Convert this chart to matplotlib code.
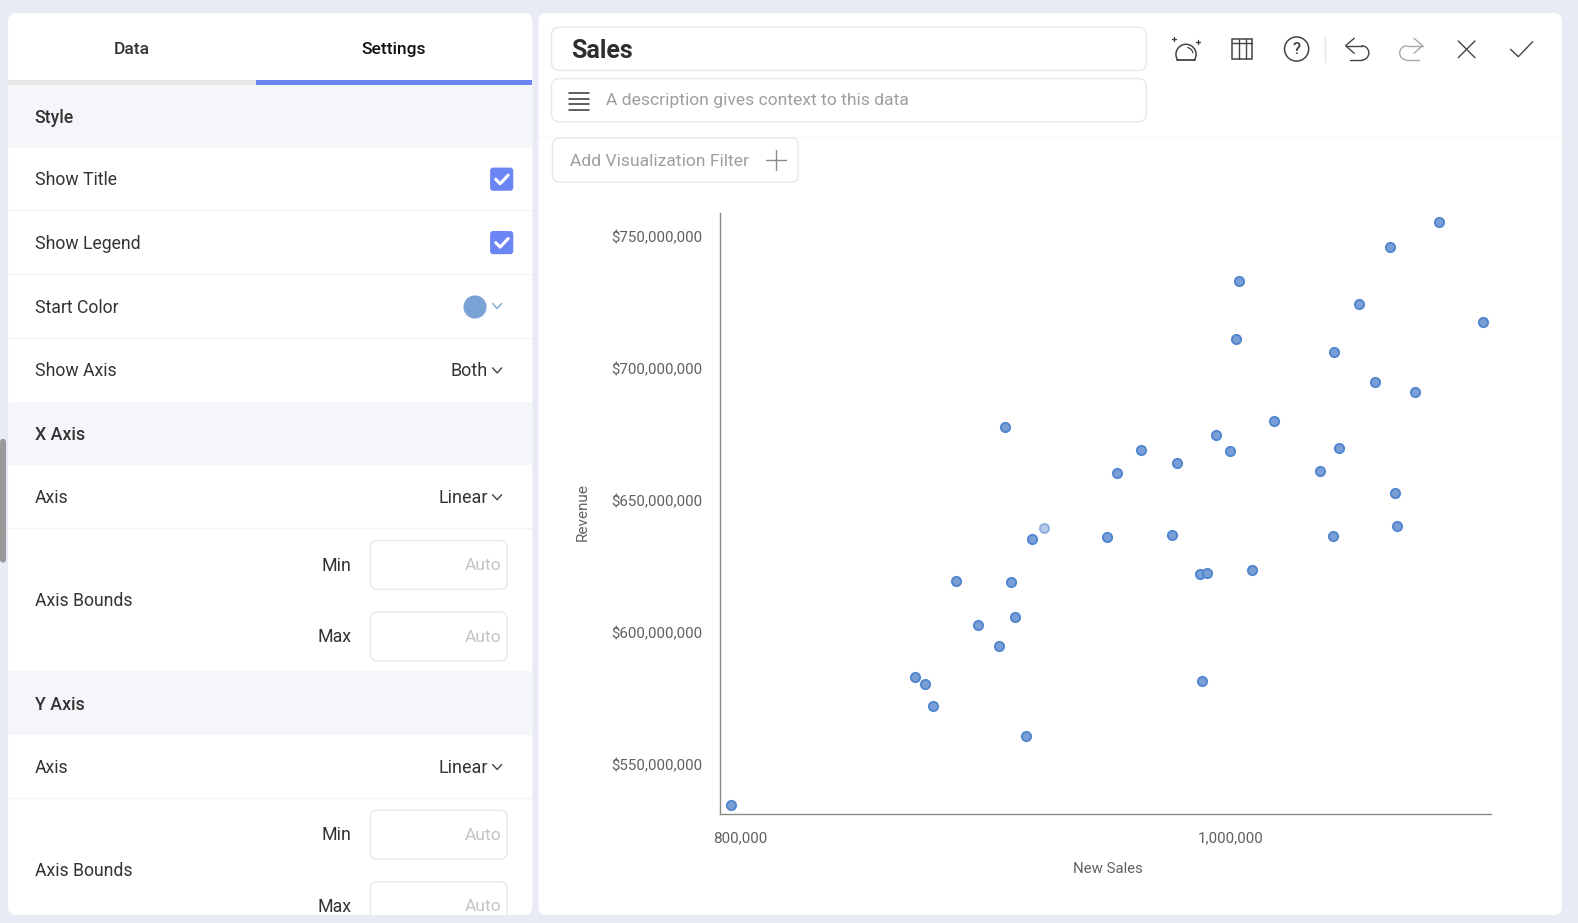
import numpy as np
import matplotlib
matplotlib.use("Agg")
import matplotlib.pyplot as plt
from matplotlib.patches import FancyBboxPatch, Rectangle, Circle, Arc
from matplotlib.ticker import FuncFormatter

plt.rcParams["font.family"] = ["Roboto", "DejaVu Sans"]

# data (new sales, revenue in millions)
new_sales = [796.3, 871.5, 875.6, 878.9, 916.6, 988.5, 905.5, 896.9, 912.1, 887.9,
             910.5, 919.1, 908.0, 953.6, 963.4, 978.2, 949.9, 976.2, 987.7, 990.6,
             1009.0, 994.3, 1000.0, 1017.7, 1002.5, 1003.7, 1036.6, 1044.4, 1042.3, 1052.6,
             1059.1, 1075.6, 1065.3, 1085.0, 1103.1, 1067.4, 1068.2, 1041.9]
revenue = [534.6, 583.1, 580.4, 572.0, 560.9, 581.6, 594.9, 602.9, 606.0, 619.7,
           619.0, 635.4, 677.8, 660.6, 669.4, 664.4, 636.2, 636.9, 622.0, 622.4,
           623.6, 674.8, 669.0, 680.1, 711.4, 733.2, 661.4, 669.8, 706.5, 724.8,
           695.0, 691.2, 746.2, 755.7, 717.9, 653.0, 640.4, 636.6]
hover_sales = [924.0]
hover_revenue = [639.6]

x_ticks = [800, 1000]
y_ticks = [550, 600, 650, 700, 750]

# settings panel rows
section_rows = [("Style", 116), ("X Axis", 431), ("Y Axis", 699)]
plain_rows = [("Show Title", 178), ("Show Legend", 241), ("Start Color", 305), ("Show Axis", 368),
              ("Axis", 494), ("Axis Bounds", 596), ("Axis", 762), ("Axis Bounds", 864)]
dropdowns = [("Both", 368), ("Linear", 494), ("Linear", 762)]
bound_boxes = [("Min", 561), ("Max", 632), ("Min", 829), ("Max", 900)]

BG = "#E8EBF3"
BLUE = "#6C85F5"
TXT = "#333333"
ICON = "#444444"

fig = plt.figure(figsize=(15.78, 9.23), dpi=100, facecolor=BG)

# page drawn in screen coordinates
ui = fig.add_axes([0, 0, 1, 1])
ui.set_xlim(0, 1568)
ui.set_ylim(917, 0)
ui.axis("off")


def box(x0, y0, x1, y1, r=8, fc="white", ec="none", lw=1.0, z=1, clip=None):
    p = FancyBboxPatch((x0, y0), x1 - x0, y1 - y0, boxstyle=f"round,pad=0,rounding_size={r}",
                       fc=fc, ec=ec, lw=lw, zorder=z)
    ui.add_patch(p)
    if clip is not None:
        p.set_clip_path(clip)
    return p


def line(xs, ys, color=ICON, lw=1.0, z=5):
    ui.plot(xs, ys, color=color, lw=lw, zorder=z, solid_capstyle="round", solid_joinstyle="round")


def label(x, y, s, size=12.7, color=TXT, ha="left", weight="normal", z=6, clip=None):
    # va center sits about a pixel high for this font
    t = ui.text(x, y + 1, s, fontsize=size, color=color, ha=ha, va="center", fontweight=weight, zorder=z)
    if clip is not None:
        t.set_clip_path(clip)
    return t


def chevron(x, y, color="#444444"):
    line([x - 4.5, x, x + 4.5], [y - 2.5, y + 2.5, y - 2.5], color=color, lw=1.0)


left_panel = box(8, 13, 529, 909)
box(535, 13, 1552, 909)

# tabs
ui.add_patch(Rectangle((8, 79), 246, 5, fc="#E6E6E6", ec="none", zorder=2))
ui.add_patch(Rectangle((254, 79), 275, 5, fc=BLUE, ec="none", zorder=2))
label(131, 48, "Data", size=12.5, ha="center", weight="medium")
label(391, 48, "Settings", size=12.5, color="#111111", ha="center", weight="medium")

# settings rows
for y0 in [84, 399, 667]:
    ui.add_patch(Rectangle((8, y0), 521, 63, fc="#F5F6FA", ec="none", zorder=2))
for y0 in [209, 272, 336, 525, 793]:
    ui.plot([8, 529], [y0, y0], color="#F3F3F6", lw=1, zorder=2)
for name, y in section_rows:
    label(34.6, y, name, size=12.8, weight="medium")
for name, y in plain_rows:
    label(34.6, y, name)

# checkboxes
for y in [178, 241]:
    box(487, y - 11.5, 510, y + 11.5, r=3, fc=BLUE, z=3)
    line([492.5, 497, 505], [y, y + 4.5, y - 4], color="white", lw=2.2)

ui.add_patch(Circle((472, 305), 11.5, fc="#7BA3D8", ec="none", zorder=3))
chevron(494, 304, color="#7BA3D8")

for name, y in dropdowns:
    label(485, y, name, size=13, ha="right")
    chevron(494, y)

for name, y in bound_boxes:
    label(349, y, name, size=12.8, ha="right", clip=left_panel)
    box(368, y - 24, 504, y + 24.5, r=7, ec="#E8E8E8", lw=1.0, z=3, clip=left_panel)
    label(498, y, "Auto", size=12.6, color="#C4C4C4", ha="right", clip=left_panel)

# scroll thumb
box(0, 436, 6, 559, r=3, fc="#9A9A9A", z=3)

# title and description fields
box(548, 27, 1139, 70, r=8, ec="#E8E8E8", lw=1.0, z=3)
label(568, 50, "Sales", size=18, weight="bold", color="#2E2E2E")
box(548, 78, 1139, 121, r=8, ec="#E8E8E8", lw=1.0, z=3)
for y in [92, 98, 103.5, 109]:
    line([565, 585], [y, y], color="#333333", lw=1.1)
label(602, 99, "A description gives context to this data", size=12.6, color="#9E9E9E")

# filter button
ui.plot([535, 1552], [136, 136], color="#F6F6F8", lw=1, zorder=2)
box(549, 137, 793, 181, r=7, ec="#E8E8E8", lw=1.0, z=3)
label(566, 159, "Add Visualization Filter", size=12.6, color="#9E9E9E")
line([761, 781], [159, 159], color="#8C8C8C")
line([771, 771], [149, 169], color="#8C8C8C")

# toolbar icons
ui.add_patch(Arc((1178.5, 54), 20, 20, theta1=140, theta2=400, ec=ICON, lw=1.1, zorder=5))
ui.add_patch(Arc((1178.5, 54), 14, 14, theta1=280, theta2=350, ec=ICON, lw=0.9, zorder=5))
line([1169.5, 1187.5], [59.6, 59.6], lw=1.3)
line([1164.5, 1168.5], [39, 39])
line([1166.5, 1166.5], [37, 41])
line([1188.5, 1192.5], [41.5, 41.5])
line([1190.5, 1190.5], [39.5, 43.5])

ui.add_patch(Rectangle((1223.8, 38.8), 20.6, 20.2, fc="none", ec=ICON, lw=1.1, zorder=5))
line([1223.8, 1244.4], [42.5, 42.5])
line([1231.5, 1231.5], [38.8, 59])
line([1237.8, 1237.8], [38.8, 59])

ui.add_patch(Circle((1288.4, 48.7), 12, fc="none", ec=ICON, lw=1.1, zorder=5))
label(1288.4, 48, "?", size=12, ha="center", color=ICON, weight="medium")
line([1317, 1317], [37, 62], color="#E2E2E2")

line([1345.7, 1337, 1345.7], [38, 45.4, 53])
line([1337, 1353], [45.4, 45.4])
ui.add_patch(Arc((1353, 52.55), 14.3, 14.3, theta1=270, theta2=90, ec=ICON, lw=1.0, zorder=5))
line([1341.5, 1353], [59.7, 59.7])

GREY = "#A8A8A8"
line([1405, 1413.6, 1405], [38, 45.4, 53], color=GREY)
line([1398, 1413.6], [45.4, 45.4], color=GREY)
ui.add_patch(Arc((1398, 52.55), 14.3, 14.3, theta1=90, theta2=270, ec=GREY, lw=1.0, zorder=5))
line([1398, 1410], [59.7, 59.7], color=GREY)

line([1449, 1465.6], [40.7, 57.3])
line([1449, 1465.6], [57.3, 40.7])
line([1501, 1508.7, 1523], [49, 56.3, 41.4])

# scatter chart
ax = fig.add_axes([715.5 / 1568, 1 - 808.5 / 917, 766 / 1568, 596.5 / 917])
ax.patch.set_alpha(0)
ax.scatter(new_sales, revenue, s=44, facecolor="#7A9FD6", edgecolor="#5287D0", linewidth=1.4,
           zorder=3, clip_on=False)
ax.scatter(hover_sales, hover_revenue, s=44, facecolor="#7A9FD6", edgecolor="#5287D0", linewidth=1.4,
           alpha=0.55, zorder=3, clip_on=False)
ax.set_xlim(791.8, 1106.4)
ax.set_ylim(531.2, 759.0)
ax.set_xticks(x_ticks)
ax.set_yticks(y_ticks)
ax.xaxis.set_major_formatter(FuncFormatter(lambda v, _: f"{v * 1000:,.0f}"))
ax.yaxis.set_major_formatter(FuncFormatter(lambda v, _: f"${v * 1000000:,.0f}"))
ax.tick_params(axis="x", length=0, pad=12.5, labelsize=10.9, labelcolor="#616161")
ax.tick_params(axis="y", length=0, pad=12.8, labelsize=10.9, labelcolor="#616161")
ax.set_xlabel("New Sales", fontsize=10.8, color="#616161", labelpad=12, x=0.503)
ax.set_ylabel("Revenue", fontsize=11, color="#616161", labelpad=15.5, y=0.503)
for side in ["top", "right"]:
    ax.spines[side].set_visible(False)
for side in ["left", "bottom"]:
    ax.spines[side].set_color("#8A8A8A")
    ax.spines[side].set_linewidth(1.0)

fig.savefig("out.png", dpi=100, facecolor=BG)
